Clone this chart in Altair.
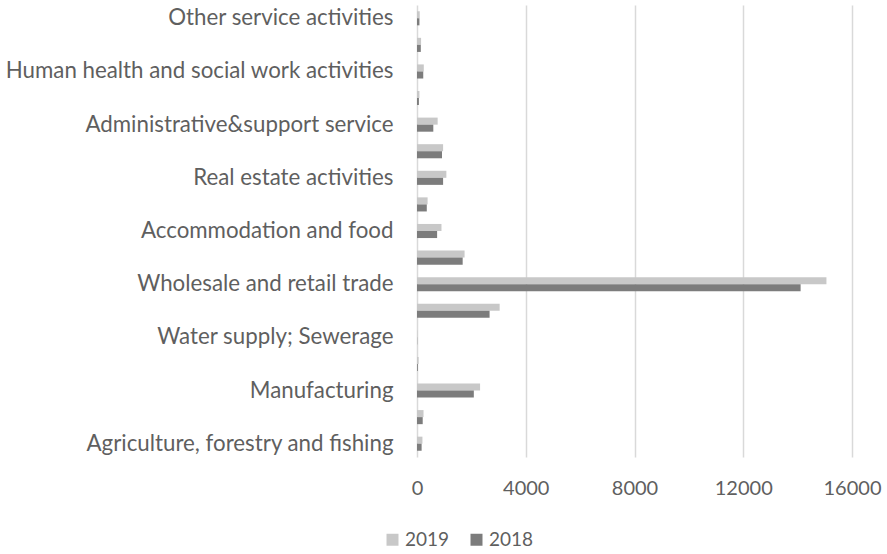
import json
import altair as alt
import pandas as pd

# Categories listed top to bottom as in the chart
categories = [
    "Other service activities",
    "Arts, entertainment and recreation",
    "Human health and social work activities",
    "Education",
    "Administrative&support service",
    "Professional, scientific and technical activities",
    "Real estate activities",
    "Information and communication",
    "Accommodation and food",
    "Transportation and storage",
    "Wholesale and retail trade",
    "Construction",
    "Water supply; Sewerage",
    "Electricity, gas and steam supply",
    "Manufacturing",
    "Mining and quarrying",
    "Agriculture, forestry and fishing",
]
shown_labels = [
    "Other service activities",
    "Human health and social work activities",
    "Administrative&support service",
    "Real estate activities",
    "Accommodation and food",
    "Wholesale and retail trade",
    "Water supply; Sewerage",
    "Manufacturing",
    "Agriculture, forestry and fishing",
]
values_2019 = [100, 150, 250, 90, 760, 960, 1080, 390, 900, 1750, 15060, 3040, 12, 60, 2320, 240, 200]
values_2018 = [90, 140, 230, 70, 600, 920, 960, 360, 740, 1680, 14110, 2670, 8, 30, 2090, 210, 170]
years = ["2019", "2018"]
year_colors = ["#c8c8c8", "#7c7c7c"]
tick_values = [0, 4000, 8000, 12000, 16000]

rows = []
for c, v19, v18 in zip(categories, values_2019, values_2018):
    rows.append({"Category": c, "Year": "2019", "Value": v19})
    rows.append({"Category": c, "Year": "2018", "Value": v18})
df = pd.DataFrame(rows)

label_expr = "indexof(" + json.dumps(shown_labels) + ", datum.value) >= 0 ? datum.value : ''"

FONT = "Lato"
TXT = "#5f5f5f"

chart = alt.Chart(df).mark_bar().encode(
    x=alt.X(
        "Value:Q",
        scale=alt.Scale(domain=[0, 16000], nice=False),
        axis=alt.Axis(
            values=tick_values, title=None, grid=True, gridColor="#d9d9d9", gridWidth=1.5,
            domain=False, ticks=False, tickSize=0, labelFont=FONT, labelFontSize=20,
            labelColor=TXT, labelPadding=31, labelBaseline="middle", format="d",
            labelFlush=False,
        ),
    ),
    y=alt.Y(
        "Category:N",
        sort=categories,
        scale=alt.Scale(paddingInner=0.47, paddingOuter=0.235),
        axis=alt.Axis(
            title=None, labelExpr=label_expr, domain=False, ticks=False, tickSize=0,
            grid=False, labelFont=FONT, labelFontSize=22.3, labelColor=TXT,
            labelPadding=24, labelLimit=0,
        ),
    ),
    yOffset=alt.YOffset("Year:N", sort=years, scale=alt.Scale(paddingInner=0, paddingOuter=0)),
    color=alt.Color(
        "Year:N",
        sort=years,
        scale=alt.Scale(domain=years, range=year_colors),
        legend=alt.Legend(
            orient="none", legendX=-34, legendY=525, direction="horizontal", title=None,
            symbolType="square", symbolSize=144, symbolStrokeWidth=0, symbolOpacity=1,
            labelFont=FONT, labelFontSize=19, labelColor=TXT, columnPadding=17,
            labelOffset=3,
        ),
    ),
).properties(
    width=435,
    height=452,
    autosize=alt.AutoSizeParams(type="none"),
    padding={"left": 417, "top": 5, "right": 35, "bottom": 97},
).configure_view(stroke=None)

chart.save("out.html", embed_options={"renderer": "svg", "actions": False})
